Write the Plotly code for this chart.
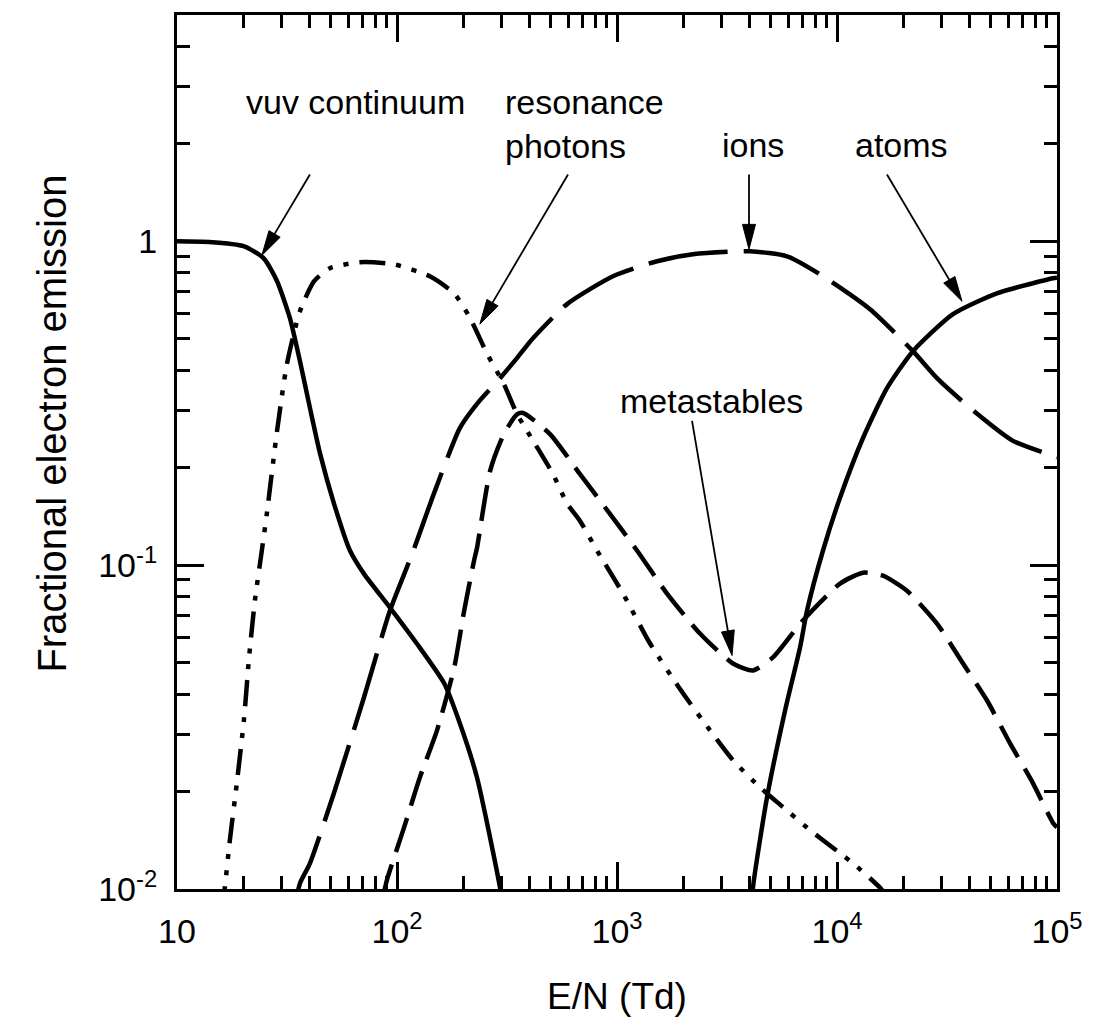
import math
import plotly.graph_objects as go

# ---------------- data ----------------
vuv_x = [10, 14, 20.2, 24.8, 28.5, 32.6, 36.2, 40.2, 44.7, 51.7, 61.1, 70.8, 92.9,
         123, 164, 193, 231, 294, 310]
vuv_y = [1.0, 0.995, 0.965, 0.886, 0.753, 0.579, 0.427, 0.306, 0.221, 0.155, 0.111,
         0.094, 0.074, 0.0573, 0.0431, 0.0325, 0.0221, 0.0101, 0.008]

res_x = [16.0, 16.5, 17.4, 18.7, 20.2, 21.2, 22.6, 24.3, 25.6, 28.5, 31.6, 36.2, 42.0,
         49.5, 67.9, 96.9, 141, 182, 215, 257, 306, 351, 390, 512, 593, 679, 811,
         1065, 1413, 1995, 2648, 3365, 4467, 5686, 7540, 10320, 11830, 15670, 17000]
res_y = [0.0085, 0.0101, 0.0142, 0.0212, 0.0339, 0.0508, 0.0778, 0.111, 0.144, 0.26,
         0.418, 0.608, 0.753, 0.826, 0.862, 0.849, 0.78, 0.69, 0.579, 0.449, 0.3625,
         0.293, 0.26, 0.191, 0.155, 0.137, 0.111, 0.0817, 0.0573, 0.0402, 0.0309,
         0.025, 0.0206, 0.0179, 0.0152, 0.0129, 0.0120, 0.0101, 0.0094]

ion_x = [34, 36.2, 40.2, 51.7, 70.8, 92.9, 117, 147, 193, 231, 294, 351, 415, 593, 959,
         1520, 2213, 4023, 5927, 8375, 14130, 22140, 28480, 40230, 63100, 95900, 100000]
ion_y = [0.0085, 0.0104, 0.012, 0.0198, 0.0391, 0.0724, 0.108, 0.166, 0.265, 0.315,
         0.378, 0.436, 0.502, 0.64, 0.78, 0.868, 0.912, 0.932, 0.899, 0.791, 0.617,
         0.458, 0.378, 0.306, 0.242, 0.2175, 0.215]

meta_x = [86, 90, 107.7, 127, 152, 182, 202, 224, 231, 265, 306, 351, 374, 496, 679,
          929, 1233, 1688, 2383, 3365, 4150, 5117, 7000, 10320, 13130, 16180, 20800,
          28480, 37400, 48100, 61100, 77800, 95900, 100000]
meta_y = [0.0093, 0.01066, 0.0155, 0.0221, 0.0309, 0.0483, 0.0724, 0.1033, 0.113,
          0.1955, 0.254, 0.292, 0.295, 0.254, 0.191, 0.144, 0.111, 0.0817, 0.0615,
          0.0497, 0.0473, 0.0519, 0.0675, 0.0877, 0.0948, 0.0928, 0.0834, 0.066,
          0.0497, 0.0382, 0.0282, 0.0212, 0.016, 0.0155]

atom_x = [4100, 4150, 4808, 5808, 6792, 7310, 8637, 10320, 13130, 16870, 22140, 33650,
          53300, 95900, 100000]
atom_y = [0.0085, 0.0101, 0.0192, 0.0356, 0.0557, 0.0724, 0.111, 0.1615, 0.247, 0.352,
          0.458, 0.596, 0.691, 0.769, 0.772]

x_tickvals = [10, 100, 1000, 10000, 100000]
x_ticktext = ["10", "10<sup>2</sup>", "10<sup>3</sup>", "10<sup>4</sup>", "10<sup>5</sup>"]
y_tickvals = [0.01, 0.1, 1]
y_ticktext = ["10<sup>-2</sup>", "10<sup>-1</sup>", "1"]

# labels: (text, x, y, xanchor, align)
labels = [
    ("vuv continuum", 65.1, 2.70, "center", "center"),
    ("resonance<br>photons", 303, 2.31, "left", "left"),
    ("ions", 4150, 1.99, "center", "center"),
    ("atoms", 19730, 1.99, "center", "center"),
    ("metastables", 2675, 0.321, "center", "center"),
]
# arrows: (tail_x, tail_y, tip_x, tip_y)
arrows = [
    (40.2, 1.609, 24.3, 0.905),
    (599, 1.609, 238, 0.555),
    (3981, 1.609, 3981, 0.945),
    (16870, 1.609, 37000, 0.653),
    (2193, 0.279, 3334, 0.0526),
]

XR = [1, 5]
YR = [-2, math.log10(5)]
FONT = "Liberation Sans, Arial, Helvetica, sans-serif"

fig = go.Figure()
line_w = 4.5
common = dict(mode="lines")
fig.add_trace(go.Scatter(x=vuv_x, y=vuv_y, **common,
                         line=dict(color="black", width=line_w, shape="spline", smoothing=0.6)))
fig.add_trace(go.Scatter(x=res_x, y=res_y, **common,
                         line=dict(color="black", width=line_w, shape="spline", smoothing=0.6,
                                   dash="26px,11px,5px,11px,5px,11px")))
fig.add_trace(go.Scatter(x=ion_x, y=ion_y, **common,
                         line=dict(color="black", width=line_w, shape="spline", smoothing=0.6,
                                   dash="80px,16px")))
fig.add_trace(go.Scatter(x=meta_x, y=meta_y, **common,
                         line=dict(color="black", width=line_w, shape="spline", smoothing=0.6,
                                   dash="36px,13px")))
fig.add_trace(go.Scatter(x=atom_x, y=atom_y, **common,
                         line=dict(color="black", width=line_w, shape="spline", smoothing=0.6)))

# figure geometry (page has an 8px body margin)
W, H = 1090, 1015
ML, MR, MT, MB = 169, 41, 4, 134
PW, PH = W - ML - MR, H - MT - MB


def to_paper(x, y):
    fx = (math.log10(x) - XR[0]) / (XR[1] - XR[0])
    fy = (math.log10(y) - YR[0]) / (YR[1] - YR[0])
    return fx, fy


shapes = []
for tx, ty, hx, hy in arrows:
    ax0, ay0 = to_paper(tx, ty)
    bx0, by0 = to_paper(hx, hy)
    p0 = (ax0 * PW, ay0 * PH)
    p1 = (bx0 * PW, by0 * PH)
    dx, dy = p1[0] - p0[0], p1[1] - p0[1]
    d = math.hypot(dx, dy)
    ux, uy = dx / d, dy / d
    nx, ny = -uy, ux
    L, hw = 25, 6.5
    base = (p1[0] - ux * L, p1[1] - uy * L)
    c1 = (base[0] + nx * hw, base[1] + ny * hw)
    c2 = (base[0] - nx * hw, base[1] - ny * hw)
    f = lambda p: (p[0] / PW, p[1] / PH)
    b = f((p1[0] - ux * (L - 2), p1[1] - uy * (L - 2)))
    shapes.append(dict(type="line", xref="paper", yref="paper", x0=ax0, y0=ay0, x1=b[0], y1=b[1],
                       line=dict(color="black", width=1.8)))
    t, q1, q2 = f(p1), f(c1), f(c2)
    shapes.append(dict(type="path", xref="paper", yref="paper",
                       path=f"M{t[0]},{t[1]} L{q1[0]},{q1[1]} L{q2[0]},{q2[1]} Z",
                       fillcolor="black", line=dict(color="black", width=1)))

annotations = []
for text, x, y, xa, al in labels:
    annotations.append(dict(text=text, x=math.log10(x), y=math.log10(y), xref="x", yref="y",
                            showarrow=False, xanchor=xa, yanchor="middle", align=al,
                            font=dict(family=FONT, size=34, color="black")))

# y-axis title (placed as rotated text, centred a little above the axis middle as in the reference)
annotations.append(dict(text="Fractional electron emission", xref="paper", yref="paper",
                        x=(44 - ML) / PW, y=(881 - 414) / PH, showarrow=False, textangle=-90,
                        xanchor="center", yanchor="middle",
                        font=dict(family=FONT, size=40, color="black")))


def minors(lo, hi):
    out = []
    for e in range(lo, hi):
        for m in range(2, 10):
            out.append(m * 10 ** e)
    return out


x_minor = minors(1, 5)
y_minor = [v for v in minors(-2, 1) if v <= 5]

axis_common = dict(
    type="log", showgrid=False, zeroline=False, showline=True, linecolor="black", linewidth=3,
    mirror="ticks", ticks="inside", ticklen=27, tickwidth=2.5, tickcolor="black",
    tickfont=dict(family=FONT, size=34, color="black"),
)

fig.update_layout(
    width=W, height=H,
    margin=dict(l=ML, r=MR, t=MT, b=MB),
    paper_bgcolor="white", plot_bgcolor="white",
    showlegend=False,
    shapes=shapes, annotations=annotations,
    xaxis=dict(**axis_common, range=XR, tickvals=x_tickvals, ticktext=x_ticktext,
               ticklabelstandoff=10,
               minor=dict(tickvals=x_minor, ticks="inside", ticklen=13, tickwidth=2.5, tickcolor="black"),
               title=dict(text="E/N (Td)", font=dict(family=FONT, size=37, color="black"), standoff=35)),
    yaxis=dict(**axis_common, range=YR, tickvals=y_tickvals, ticktext=y_ticktext,
               ticklabelstandoff=10,
               minor=dict(tickvals=y_minor, ticks="inside", ticklen=13, tickwidth=2.5, tickcolor="black")),
)

fig.write_html("out.html")
